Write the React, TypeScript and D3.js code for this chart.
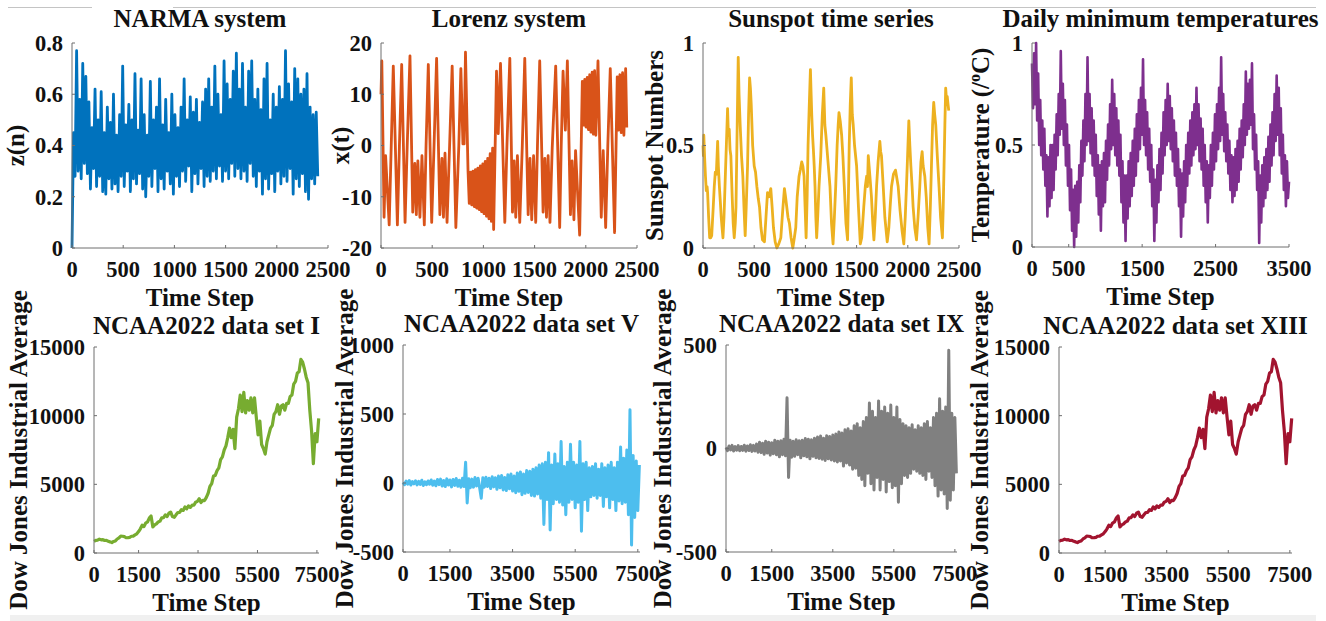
import * as d3 from "d3";

// ---- data ----

// NARMA z(n), one value every 15 steps (0..2400)
const narmaValues = [
  0, 0.45, 0.28, 0.77, 0.3, 0.58, 0.27, 0.72, 0.33, 0.67,
  0.29, 0.57, 0.23, 0.47, 0.31, 0.62, 0.24, 0.5, 0.28, 0.61,
  0.22, 0.45, 0.21, 0.55, 0.27, 0.49, 0.23, 0.6, 0.25, 0.44,
  0.22, 0.52, 0.28, 0.71, 0.24, 0.48, 0.3, 0.56, 0.22, 0.5,
  0.27, 0.68, 0.25, 0.46, 0.29, 0.66, 0.23, 0.52, 0.2, 0.44,
  0.28, 0.65, 0.24, 0.5, 0.31, 0.55, 0.22, 0.66, 0.27, 0.48,
  0.23, 0.58, 0.3, 0.45, 0.25, 0.6, 0.21, 0.52, 0.28, 0.47,
  0.24, 0.55, 0.3, 0.66, 0.26, 0.5, 0.32, 0.59, 0.22, 0.53,
  0.29, 0.58, 0.25, 0.49, 0.31, 0.57, 0.24, 0.62, 0.28, 0.66,
  0.26, 0.55, 0.3, 0.71, 0.27, 0.6, 0.32, 0.52, 0.26, 0.73,
  0.3, 0.64, 0.27, 0.58, 0.33, 0.69, 0.28, 0.76, 0.31, 0.62,
  0.27, 0.72, 0.3, 0.55, 0.26, 0.69, 0.33, 0.73, 0.28, 0.58,
  0.24, 0.62, 0.3, 0.54, 0.21, 0.66, 0.27, 0.72, 0.23, 0.5,
  0.29, 0.6, 0.22, 0.55, 0.3, 0.63, 0.25, 0.58, 0.28, 0.77,
  0.26, 0.64, 0.31, 0.57, 0.21, 0.7, 0.27, 0.66, 0.24, 0.6,
  0.29, 0.62, 0.22, 0.68, 0.19, 0.55, 0.27, 0.52, 0.25, 0.53,
  0.28,
];

// Lorenz x(t): turning points
const lorenzTime = [
  0, 8, 30, 45, 80, 100, 120, 160, 180, 202,
  235, 256, 283, 310, 330, 345, 360, 380, 400, 423,
  440, 462, 495, 518, 543, 575, 595, 610, 625, 645,
  670, 695, 731, 760, 780, 800, 812, 825, 850, 862,
  874, 886, 898, 910, 922, 934, 946, 958, 970, 982,
  994, 1006, 1018, 1030, 1042, 1054, 1066, 1078, 1090, 1100,
  1128, 1145, 1167, 1209, 1230, 1258, 1284, 1300, 1316, 1332,
  1355, 1380, 1404, 1437, 1455, 1472, 1490, 1511, 1528, 1550,
  1583, 1600, 1616, 1632, 1650, 1672, 1706, 1745, 1760, 1778,
  1800, 1820, 1850, 1866, 1884, 1900, 1940, 1966, 1978, 1990,
  2002, 2014, 2026, 2038, 2050, 2062, 2074, 2086, 2098, 2119,
  2151, 2170, 2194, 2215, 2239, 2281, 2307, 2320, 2333, 2346,
  2359, 2372, 2389, 2400,
];
const lorenzValues = [
  10, 16.5, -14, -2, -15.5, 0, 15.5, -15.5, 0, 15.8,
  -15, 0, 17.5, -13, -3.5, -13.5, -3, -14, -2, -15.5,
  0, 15.8, -15, 0, 17, -13.5, -2.5, -14, -1.5, -15,
  0, 15.5, -16, 0, 15, 0.3, 0.3, 18.2, -5, -11.3,
  -5.2, -11.6, -5, -11.9, -4.7, -12.2, -4.4, -12.5, -4, -12.9,
  -3.6, -13.3, -3.1, -13.8, -2.5, -14.3, -1.6, -14.8, -0.5, -16.4,
  14.5, 2.3, 16, -15, 0, 17, -13, -3, -14, -2,
  -15, 0, 17, -13.5, -2.5, -14.5, -2, -15, 0, 16.5,
  -13, -2.5, -14, -2, -15, -0.5, 15.5, -16, 0, 14.5,
  3, 16.5, -13.5, -3, -14.5, -1, -17.5, 12.5, 4, 12.9,
  3.6, 13.3, 3.1, 13.8, 2.6, 14.3, 2.2, 14.6, 2, 16.5,
  -14, -1, -16, 0, 15, -17, 13.4, 3, 13.8, 2.5,
  14.2, 2, 15, 3.5,
];

// Sunspot numbers (normalised)
const sunspotTime = [
  0, 4, 8, 15, 24, 32, 40, 45, 55, 65, 75, 85,
  100, 110, 120, 130, 143, 150, 160, 170, 178, 186, 195,
  205, 218, 228, 240, 248, 256, 264, 272, 285, 295, 305,
  315, 322, 334, 344, 352, 363, 376, 389, 400, 412,
  422, 435, 445, 455, 463, 471, 485, 500, 513, 526, 540, 552, 566, 581, 600,
  615, 630, 645, 662, 675, 688, 705, 721, 740, 760,
  778, 795, 806, 818, 830, 844, 860, 877, 892,
  906, 920, 938, 950, 964, 975, 987, 997, 1007,
  1017, 1026, 1038, 1049, 1056, 1062, 1070, 1078, 1086, 1094, 1102, 1110,
  1120, 1133, 1150, 1165, 1179, 1190, 1200, 1208, 1224, 1240, 1255, 1270,
  1283, 1296, 1310, 1320, 1328, 1340, 1354, 1366, 1380, 1396, 1412,
  1420, 1428, 1438, 1448, 1458, 1467, 1480, 1500, 1518, 1536,
  1550, 1570, 1585, 1598, 1606, 1614, 1622, 1630, 1645, 1658, 1669,
  1682, 1695, 1710, 1727, 1735, 1743, 1760, 1776, 1799,
  1815, 1830, 1841, 1860, 1880, 1893, 1906, 1925, 1945, 1961,
  1975, 1987, 1998, 2010, 2020, 2030, 2042, 2052, 2068, 2085,
  2100, 2117, 2128, 2140, 2150, 2166, 2180, 2195, 2208,
  2220, 2231, 2242, 2253, 2263, 2273, 2288, 2305, 2320, 2338,
  2346, 2354, 2362, 2370, 2378, 2385, 2393, 2400,
];
const sunspotValues = [
  0.5, 0.45, 0.55, 0.45, 0.35, 0.28, 0.3, 0.27, 0.15, 0.05, 0.05, 0.06,
  0.2, 0.3, 0.37, 0.36, 0.52, 0.4, 0.3, 0.22, 0.15, 0.1, 0.05,
  0.15, 0.35, 0.5, 0.68, 0.55, 0.58, 0.48, 0.45, 0.25, 0.12, 0.05,
  0.12, 0.2, 0.6, 0.93, 0.75, 0.6, 0.45, 0.35, 0.2, 0.06,
  0.2, 0.4, 0.65, 0.83, 0.78, 0.7, 0.5, 0.4, 0.37, 0.3, 0.24, 0.2, 0.1, 0.04, 0.03,
  0.15, 0.27, 0.25, 0.29, 0.2, 0.1, 0.03, 0.0, 0.02, 0.05,
  0.18, 0.29, 0.25, 0.2, 0.15, 0.12, 0.05, 0.0, 0.05,
  0.1, 0.25, 0.35, 0.38, 0.42, 0.4, 0.35, 0.2, 0.05,
  0.25, 0.5, 0.7, 0.87, 0.75, 0.65, 0.55, 0.48, 0.4, 0.3, 0.15, 0.05,
  0.15, 0.3, 0.45, 0.65, 0.78, 0.6, 0.55, 0.5, 0.4, 0.3, 0.12, 0.02,
  0.15, 0.3, 0.5, 0.6, 0.66, 0.62, 0.55, 0.45, 0.3, 0.12, 0.04,
  0.25, 0.5, 0.7, 0.83, 0.65, 0.6, 0.5, 0.4, 0.2, 0.02,
  0.05, 0.2, 0.3, 0.35, 0.3, 0.45, 0.4, 0.35, 0.25, 0.12, 0.04,
  0.15, 0.3, 0.42, 0.52, 0.47, 0.45, 0.3, 0.15, 0.03,
  0.1, 0.22, 0.3, 0.36, 0.38, 0.34, 0.3, 0.18, 0.08, 0.02,
  0.15, 0.3, 0.45, 0.62, 0.5, 0.4, 0.3, 0.2, 0.1, 0.04,
  0.15, 0.3, 0.42, 0.47, 0.4, 0.35, 0.25, 0.1, 0.02,
  0.2, 0.4, 0.6, 0.71, 0.65, 0.6, 0.45, 0.3, 0.15, 0.05,
  0.2, 0.4, 0.6, 0.78, 0.72, 0.74, 0.7, 0.67,
];

// Daily minimum temperature (normalised), one value every 14 days (0..3500)
const temperatureValues = [
  0.9, 0.68, 0.95, 0.7, 1.0, 0.62, 0.85, 0.5, 0.72, 0.45,
  0.62, 0.38, 0.58, 0.3, 0.45, 0.15, 0.44, 0.2, 0.5, 0.24,
  0.5, 0.28, 0.55, 0.38, 0.65, 0.45, 0.75, 0.55, 0.96, 0.58,
  0.8, 0.5, 0.72, 0.4, 0.6, 0.3, 0.5, 0.18, 0.38, 0.08,
  0.28, 0.0, 0.3, 0.05, 0.32, 0.12, 0.4, 0.22, 0.52, 0.35,
  0.62, 0.42, 0.75, 0.5, 0.93, 0.52, 0.75, 0.46, 0.68, 0.4,
  0.62, 0.35, 0.55, 0.25, 0.45, 0.16, 0.4, 0.08, 0.42, 0.2,
  0.46, 0.22, 0.52, 0.33, 0.6, 0.4, 0.7, 0.48, 0.82, 0.5,
  0.75, 0.45, 0.68, 0.4, 0.62, 0.35, 0.55, 0.22, 0.42, 0.12,
  0.35, 0.03, 0.35, 0.14, 0.42, 0.2, 0.46, 0.25, 0.52, 0.3,
  0.58, 0.35, 0.65, 0.42, 0.72, 0.48, 0.78, 0.55, 0.92, 0.5,
  0.72, 0.45, 0.66, 0.38, 0.58, 0.32, 0.5, 0.2, 0.38, 0.03,
  0.33, 0.12, 0.4, 0.22, 0.48, 0.28, 0.56, 0.36, 0.66, 0.45,
  0.72, 0.5, 0.8, 0.52, 0.74, 0.48, 0.68, 0.42, 0.62, 0.35,
  0.56, 0.3, 0.48, 0.2, 0.38, 0.05, 0.36, 0.15, 0.42, 0.22,
  0.5, 0.3, 0.56, 0.36, 0.62, 0.4, 0.66, 0.45, 0.7, 0.48,
  0.78, 0.5, 0.7, 0.42, 0.63, 0.38, 0.58, 0.3, 0.5, 0.22,
  0.42, 0.12, 0.4, 0.24, 0.5, 0.3, 0.56, 0.38, 0.65, 0.42,
  0.7, 0.48, 0.78, 0.52, 0.93, 0.55, 0.75, 0.47, 0.66, 0.42,
  0.6, 0.36, 0.52, 0.28, 0.45, 0.22, 0.44, 0.25, 0.48, 0.28,
  0.52, 0.32, 0.58, 0.38, 0.62, 0.44, 0.7, 0.5, 0.86, 0.55,
  0.8, 0.58, 0.82, 0.6, 0.9, 0.48, 0.65, 0.38, 0.55, 0.28,
  0.42, 0.02, 0.35, 0.12, 0.4, 0.2, 0.44, 0.24, 0.48, 0.28,
  0.54, 0.32, 0.6, 0.4, 0.66, 0.45, 0.75, 0.52, 0.84, 0.55,
  0.78, 0.45, 0.68, 0.36, 0.55, 0.28, 0.45, 0.2, 0.42, 0.24,
  0.32,
];

// Dow Jones Industrial Average, one value every 60 steps (0..7560)
const djiaValues = [
  850, 920, 940, 1010, 960, 970, 910, 920, 850, 810,
  760, 840, 880, 1020, 1100, 1230, 1220, 1190, 1110, 1120,
  1140, 1220, 1230, 1320, 1400, 1560, 1760, 2020, 1920, 2180,
  2260, 2540, 2700, 1900, 2050, 2120, 2260, 2320, 2560, 2580,
  2780, 2660, 2900, 2980, 2650, 2600, 2780, 2950, 2960, 3150,
  3100, 3350, 3220, 3430, 3320, 3480, 3480, 3700, 3760, 3950,
  3680, 3830, 3820, 4050, 4350, 4850, 5050, 5600, 5650, 6000,
  6200, 6800, 7000, 7500, 7800, 8400, 9100, 8400, 9000, 7600,
  9900, 10500, 11500, 10300, 11700, 10200, 11100, 10400, 11300, 10200,
  11300, 9900, 8600, 9600, 7900, 7600, 7200, 8100, 8600, 9100,
  9300, 10100, 10300, 10800, 10100, 10700, 10800, 10400, 10900, 10900,
  11400, 11500, 12300, 12500, 13100, 13200, 14100, 13900, 13400, 12800,
  12400, 10400, 8900, 6500, 8700, 8100, 9800,
];

// data set V (differenced), one value every 50 steps
const setVValues = [
  5, -12, 14, -8, 18, -15, 10, -6, 16, -14, 12, -10, 20, -18, 8, -12, 15, -9, 22, -16,
  14, -20, 25, -12, 28, -22, 18, -26, 30, -15, 22, -28, 26, -18, 32, -24,
  20, -30, 35, -25,
  150, -145, 30, -35,
  28, -30, 40, -22, 35, -38, -110, 38, -30, 42, -25, 35, -40, 45, -28, 38,
  -45, 50, -35, 55, -50, 40, -55, 60, -42, 65, -58, 50,
  -70, 72, -60, 80, -85, 65, -75, 90, -68, 85, -90, 100,
  -95, 110, -80, 130, -110, 140,
  -300, 150, -120, 220, -340, 130, -150, 210, -120, 140,
  -140, 300, -160, 120, -230, 150, -140, 280, -120, 150, -180, 130, -140, 300, -350, 140,
  -120, 150, -200, 110, -100, 120, -90, 140, -110, 100,
  -90, 140, -170, 110, -100, 130, -180, 150, -120, 110,
  -200, 150, -130, 260, -150, 180, -140, 240,
  -230, 530, -450, 200, -250, 160, -200, 130,
];

// data set IX (differenced), one value every 50 steps
const setIXValues = [
  6, -10, 12, -7, 15, -12, 9, -8, 14, -11, 10, -9, 16, -13, 12, -10, 18, -14, 15, -12,
  22, -18, 30, -20, 25, -28, 35, -22, 30, -32, 28, -25, 40, -30, 35, -40,
  38, -30, 45, -35,
  245, -140, 40, -42,
  35, -38, 42, -30, 38, -45, 40, -35, 48, -40, 45, -50, 42, -38, 50, -45,
  55, -48, 60, -52, 50, -58, 62, -50, 58, -55, 65, -60,
  70, -65, 80, -60, 75, -85, 90, -70, 95, -80, 85, -100,
  110, -95, 120, -130, 100, -150,
  130, -180, 150, -120, 220, -170, 180, -200, 150, -140,
  230, -200, 180, -150, 200, -210, 170, -160, 210, -190, 150, -180, 200, -260, 140, -170,
  120, -130, 110, -140, 100, -120, 115, -100, 90, -110,
  110, -120, 100, -130, 120, -150, 130, -110, 100, -140,
  150, -180, 170, -230, 240, -200, 180, -220,
  200, -290, 475, -250, 170, -200, 150, -120,
];

const shortTicks = [0, 500, 1000, 1500, 2000, 2500];
const tempTicks = [0, 500, 1500, 2500, 3500];
const longTicks = [0, 1500, 3500, 5500, 7500];

const FONT = "'Liberation Serif', 'Times New Roman', serif";
const W = 1326;
const H = 621;

const steps = (vals: number[], step: number) => vals.map((_, i) => i * step);

const panels = [
  { title: "NARMA system", ylabel: "z(n)", left: 72, right: 328, top: 43, bottom: 248,
    xDomain: [0, 2500], yDomain: [0, 0.8], xTicks: shortTicks, yTicks: [0, 0.2, 0.4, 0.6, 0.8],
    color: "#0072BD", t: steps(narmaValues, 15), v: narmaValues, labelX: 24, lw: 2.8 },
  { title: "Lorenz system", ylabel: "x(t)", left: 381, right: 637, top: 43, bottom: 248,
    xDomain: [0, 2500], yDomain: [-20, 20], xTicks: shortTicks, yTicks: [-20, -10, 0, 10, 20],
    color: "#D95319", t: lorenzTime, v: lorenzValues, labelX: 349, lw: 2.8 },
  { title: "Sunspot time series", ylabel: "Sunspot Numbers", left: 703, right: 959, top: 43, bottom: 248,
    xDomain: [0, 2500], yDomain: [0, 1], xTicks: shortTicks, yTicks: [0, 0.5, 1],
    color: "#EDB120", t: sunspotTime, v: sunspotValues, labelX: 663, lw: 2.8 },
  { title: "Daily minimum temperatures", ylabel: "temp", left: 1032, right: 1289, top: 43, bottom: 247,
    xDomain: [0, 3500], yDomain: [0, 1], xTicks: tempTicks, yTicks: [0, 0.5, 1],
    color: "#7E2F8E", t: steps(temperatureValues, 14), v: temperatureValues, labelX: 989, lw: 2.6 },
  { title: "NCAA2022 data set I", ylabel: "Dow Jones Industrial Average", left: 94, right: 319, top: 347, bottom: 553,
    xDomain: [0, 7570], yDomain: [0, 15000], xTicks: longTicks, yTicks: [0, 5000, 10000, 15000],
    color: "#77AC30", t: steps(djiaValues, 60), v: djiaValues, labelX: 27, lw: 3.2 },
  { title: "NCAA2022 data set V", ylabel: "Dow Jones Industrial Average", left: 403, right: 640, top: 345, bottom: 552,
    xDomain: [0, 7570], yDomain: [-500, 1000], xTicks: longTicks, yTicks: [-500, 0, 500, 1000],
    color: "#4DBEEE", t: steps(setVValues, 50), v: setVValues, labelX: 353, lw: 3 },
  { title: "NCAA2022 data set IX", ylabel: "Dow Jones Industrial Average", left: 726, right: 957, top: 345, bottom: 552,
    xDomain: [0, 7570], yDomain: [-500, 500], xTicks: longTicks, yTicks: [-500, 0, 500],
    color: "#808080", t: steps(setIXValues, 50), v: setIXValues, labelX: 671, lw: 3 },
  { title: "NCAA2022 data set XIII", ylabel: "Dow Jones Industrial Average", left: 1059, right: 1292, top: 347, bottom: 553,
    xDomain: [0, 7570], yDomain: [0, 15000], xTicks: longTicks, yTicks: [0, 5000, 10000, 15000],
    color: "#A2142F", t: steps(djiaValues, 60), v: djiaValues, labelX: 988, lw: 3.2 },
];

function Panel({ p }: { p: (typeof panels)[number] }) {
  const x = d3.scaleLinear().domain(p.xDomain).range([p.left, p.right]);
  const y = d3.scaleLinear().domain(p.yDomain).range([p.bottom, p.top]);
  const line = d3
    .line<number>()
    .x((_, i) => x(p.t[i]))
    .y((d) => y(d));
  const cx = (p.left + p.right) / 2;
  const cy = (p.top + p.bottom) / 2;
  const axisColor = "#6e6e6e";

  return (
    <g>
      <path d={line(p.v) || ""} fill="none" stroke={p.color} strokeWidth={p.lw} strokeLinejoin="round" />
      <line x1={p.left} x2={p.right} y1={p.bottom} y2={p.bottom} stroke={axisColor} strokeWidth={1} />
      <line x1={p.left} x2={p.left} y1={p.top} y2={p.bottom} stroke={axisColor} strokeWidth={1} />
      {p.xTicks.map((t) => (
        <g key={"x" + t}>
          <line x1={x(t)} x2={x(t)} y1={p.bottom} y2={p.bottom - 3} stroke={axisColor} />
          <text x={x(t)} y={p.bottom + 29} textAnchor="middle" fontSize={22.5} fontWeight="bold" fill="#111">
            {t}
          </text>
        </g>
      ))}
      {p.yTicks.map((t) => (
        <g key={"y" + t}>
          <line x1={p.left} x2={p.left + 3} y1={y(t)} y2={y(t)} stroke={axisColor} />
          <text x={p.left - 9} y={y(t)} dy="0.35em" textAnchor="end" fontSize={22.5} fontWeight="bold" fill="#111">
            {t}
          </text>
        </g>
      ))}
      <text x={cx} y={p.top - 16 + (p.top > 300 ? 3 : 0)} textAnchor="middle" fontSize={25} fontWeight="bold" fill="#111">
        {p.title}
      </text>
      <text x={cx} y={p.bottom + 58} textAnchor="middle" fontSize={25} fontWeight="bold" fill="#111">
        Time Step
      </text>
      <text transform={`translate(${p.labelX},${cy}) rotate(-90)`} textAnchor="middle" fontSize={25} fontWeight="bold" fill="#111">
        {p.ylabel === "temp" ? (
          <>
            Temperature (/<tspan dy={-9} fontSize={16}>o</tspan>
            <tspan dy={9}>C)</tspan>
          </>
        ) : (
          p.ylabel
        )}
      </text>
    </g>
  );
}

export default function App() {
  return (
    <svg
      width={W}
      height={H}
      style={{ position: "absolute", left: 0, top: 0, background: "#fff" }}
      fontFamily={FONT}
    >
      <rect x={0} y={0} width={W} height={H} fill="#fff" />
      <line x1={8} x2={92} y1={7.5} y2={7.5} stroke="#c4c4c4" />
      <line x1={173} x2={1316} y1={7.5} y2={7.5} stroke="#c4c4c4" />
      {panels.map((p) => (
        <Panel key={p.title} p={p} />
      ))}
      <rect x={10} y={615} width={1306} height={6} fill="#f0f0f0" />
    </svg>
  );
}
